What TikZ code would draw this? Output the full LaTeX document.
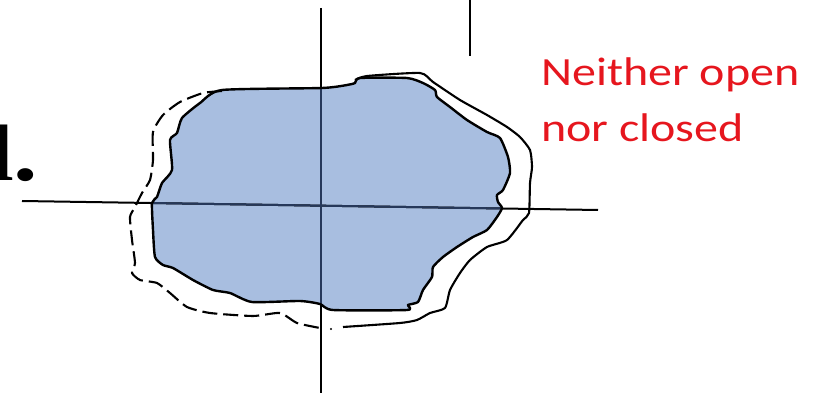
\documentclass[tikz,border=0pt]{standalone}
\usepackage{fontspec}
\usepackage{graphicx}
\usepackage{xcolor}
\newfontfamily\notefont{Carlito}
\newfontfamily\itemfont{Liberation Serif}
\definecolor{notered}{RGB}{230,22,30}
\definecolor{blobfill}{RGB}{168,190,224}
\definecolor{axisnavy}{RGB}{38,56,90}

% outline of the set
\newcommand{\setoutline}{plot[smooth cycle, tension=0.35] coordinates {
  (222,90) (200,103) (182,118) (177,133) (170,140) (172,170) (162,183)
  (157,197) (152,203) (153,230) (155,257) (163,265) (173,268) (193,280)
  (213,290) (230,293) (252,302) (300,301) (320,304) (333,310) (407,310)
  (408,305) (418,302) (423,290) (432,277) (433,267) (443,257) (457,247)
  (473,237) (487,230) (497,217) (502,208) (498,202) (497,195) (503,190)
  (510,173) (508,157) (500,138) (487,132) (467,120) (450,107) (437,97)
  (435,90) (423,83) (407,78) (360,78) (355,83) (347,85) (322,88)}}

\begin{document}
\begin{tikzpicture}[
  x=1pt, y=-1pt,
  axis/.style={line width=2pt, black},
  edge/.style={line width=2.4pt, black, line join=round, line cap=round},
  closure/.style={line width=2.1pt, black, line join=round},
  halfclosure/.style={closure, dash pattern=on 15pt off 6pt},
  note/.style={font=\notefont\fontsize{40}{56}\selectfont, text=notered, align=left, inner sep=0pt}
]
\clip (0,0) rectangle (823,393);

% Axes
\fill[blobfill] \setoutline;
\draw[axis] (22,201) -- (598,210);
\draw[axis] (321,8) -- (321,393);
\draw[axis] (470,0) -- (470,56);
\begin{scope}
  \clip \setoutline;
  \draw[axis, axisnavy] (22,201) -- (598,210);
  \draw[axis, axisnavy] (321,8) -- (321,393);
\end{scope}

% The set
\draw[edge] \setoutline;

% Boundary included on the right
\draw[closure] plot[smooth, tension=0.35] coordinates {
  (355,80) (367,76) (420,73) (433,82) (460,100) (487,115) (507,127)
  (520,137) (530,150) (532,167) (530,183) (529,213) (523,220) (507,240)
  (487,247) (470,260) (460,273) (450,290) (445,308) (430,313) (417,320)
  (400,323) (343,327)};

% Boundary left out on the left
\draw[halfclosure] plot[smooth, tension=0.35] coordinates {
  (222,91) (203,93) (180,102) (163,115) (153,132) (153,160) (150,180)
  (142,193) (135,207) (130,217) (132,240) (135,263) (132,273) (140,280)
  (157,283) (170,293) (187,307) (210,313) (253,316) (280,313) (297,323)
  (320,328)};
\fill (331,329) circle (1.2pt);

% Labels
\node[anchor=base west, inner sep=0pt, font=\itemfont\bfseries\fontsize{80}{80}\selectfont] (item) at (-41,181) {\scalebox{1.22}[1]{d.}};
\node[note, anchor=base west] (answer) at (541,142) {\scalebox{1.2}[1]{Neither open}\\\scalebox{1.2}[1]{nor closed}};
\end{tikzpicture}
\end{document}
